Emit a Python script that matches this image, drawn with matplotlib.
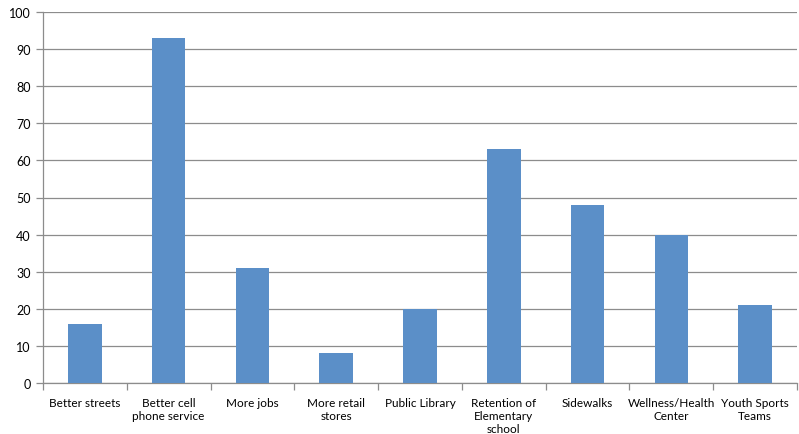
import matplotlib
matplotlib.use("Agg")
import matplotlib.pyplot as plt
import numpy as np

categories = ["Better streets", "Better cell\nphone service", "More jobs",
              "More retail\nstores", "Public Library", "Retention of\nElementary\nschool",
              "Sidewalks", "Wellness/Health\nCenter", "Youth Sports\nTeams"]
counts = [16, 93, 31, 8, 20, 63, 48, 40, 21]

plt.rcParams['font.family'] = ['Lato', 'DejaVu Sans']

fig = plt.figure(figsize=(7.99, 4.35), dpi=100)
ax = fig.add_axes([43/799, 51/435, 754/799, 371/435])

x = np.arange(len(categories))
ax.bar(x, counts, width=0.4, color='#5b8fc8', zorder=3)

ax.set_xlim(-0.5, len(categories) - 0.5)
ax.set_ylim(0, 100)
ax.set_yticks(np.arange(0, 101, 10))
ax.yaxis.grid(True, color='#8c8c8c', linewidth=0.9, zorder=0)

# category labels centred under the bars, ticks on the boundaries
ax.set_xticks(x)
ax.set_xticklabels(categories, fontsize=8.5, linespacing=1.25)
ax.tick_params(axis='x', length=0, pad=10)
ax.set_xticks(np.arange(-0.5, len(categories)), minor=True)
ax.tick_params(axis='x', which='minor', length=5, color='#8c8c8c', width=0.9)
ax.tick_params(axis='y', length=5, color='#8c8c8c', width=0.9, labelsize=9, pad=4)

for side in ['top', 'right']:
    ax.spines[side].set_visible(False)
for side in ['left', 'bottom']:
    ax.spines[side].set_color('#8c8c8c')
    ax.spines[side].set_linewidth(0.9)

fig.savefig("out.png", dpi=100, facecolor='white')
